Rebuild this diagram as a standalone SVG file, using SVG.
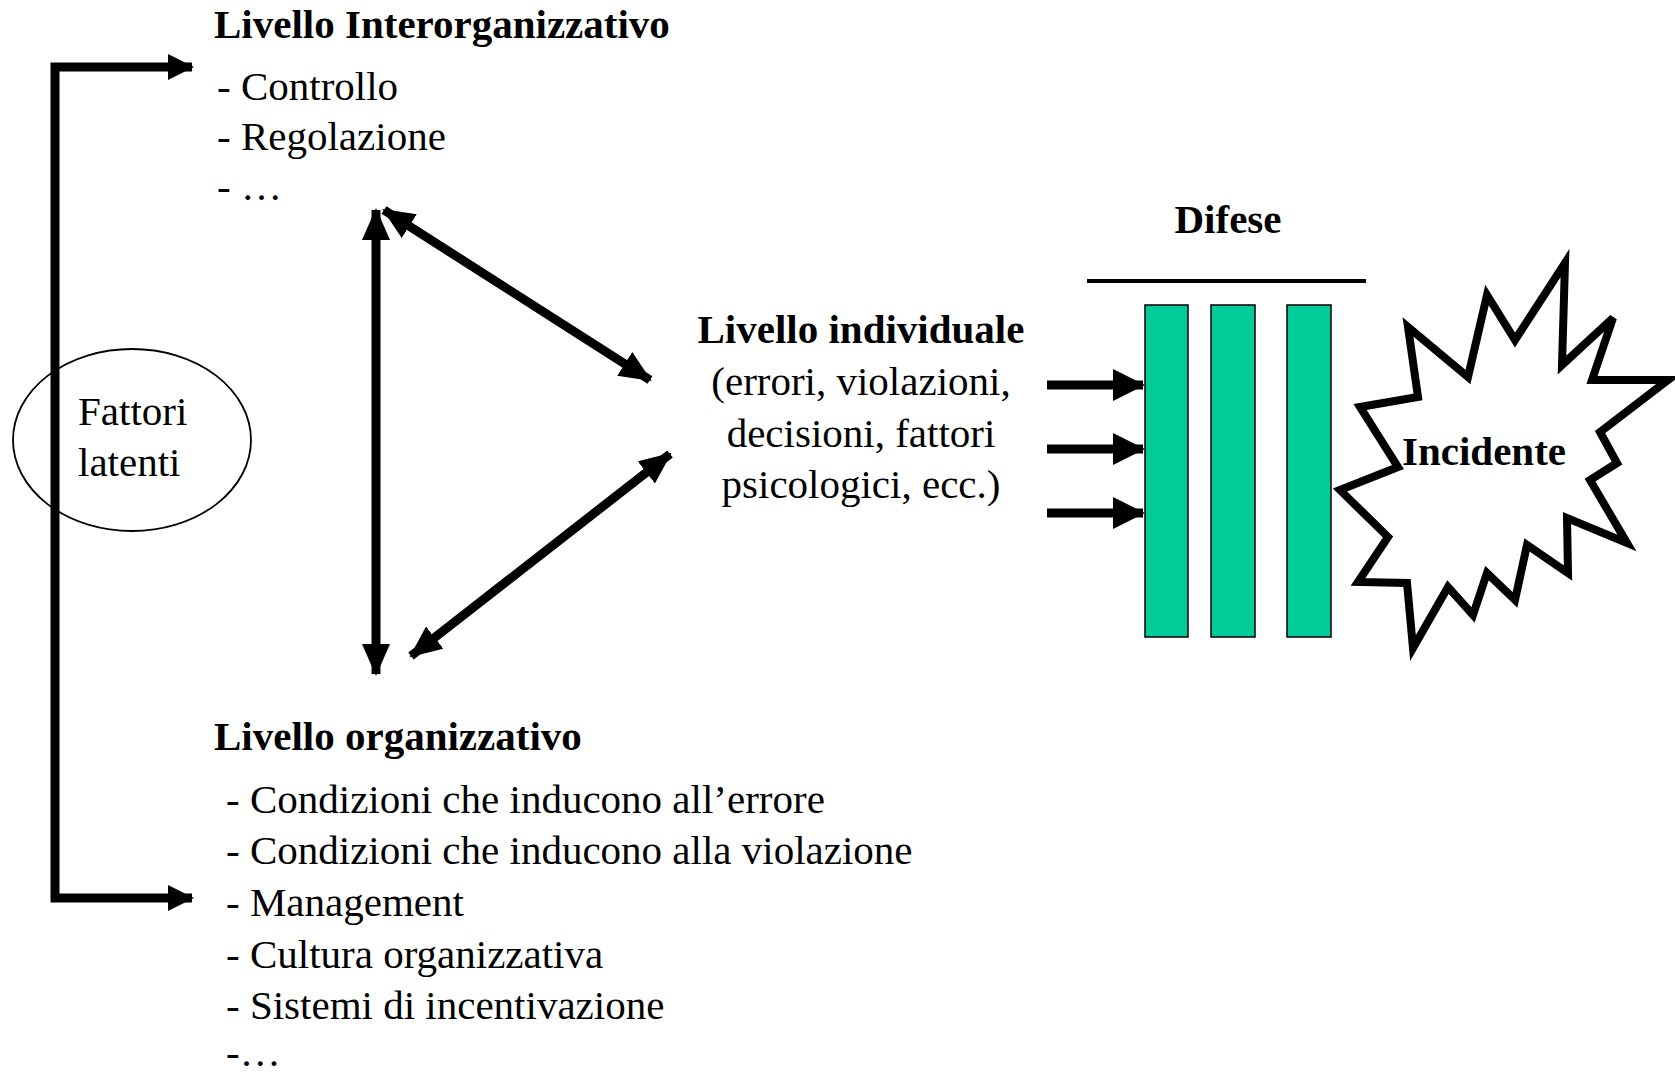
<svg xmlns="http://www.w3.org/2000/svg" width="1675" height="1074" viewBox="0 0 1675 1074">
<style>
text{font-family:"Liberation Serif","Times New Roman",serif;font-size:41px;fill:#000}
.b{font-weight:bold}
.m{text-anchor:middle}
.ln{stroke:#000;fill:none;stroke-width:9}
.bar{fill:#00CC99;stroke:#000;stroke-width:1.5}
</style>
<defs>
<marker id="ah" markerUnits="userSpaceOnUse" markerWidth="32" markerHeight="28" refX="30" refY="14" orient="auto-start-reverse">
<path d="M0,0 L32,14 L0,28 Z" fill="#000"/>
</marker>
<marker id="ahs" markerUnits="userSpaceOnUse" markerWidth="26" markerHeight="26" refX="24" refY="13" orient="auto-start-reverse">
<path d="M0,0 L26,13 L0,26 Z" fill="#000"/>
</marker>
<marker id="ahd" markerUnits="userSpaceOnUse" markerWidth="32" markerHeight="32" refX="30" refY="16" orient="auto">
<path d="M0,0 L32,16 L0,32 Z" fill="#000"/>
</marker>
</defs>
<rect width="1675" height="1074" fill="#fff"/>

<g id="connectors">
<path class="ln" d="M192,67 L55,67 L55,898 L192,898" stroke-width="8" marker-start="url(#ahs)" marker-end="url(#ahs)"/>
<line class="ln" x1="376" y1="210" x2="376" y2="674" marker-start="url(#ah)" marker-end="url(#ah)"/>
<line class="ln" x1="384" y1="210" x2="650" y2="380" marker-start="url(#ah)" marker-end="url(#ah)"/>
<line class="ln" x1="670" y1="454" x2="411" y2="656" marker-start="url(#ah)" marker-end="url(#ah)"/>
<line class="ln" x1="1047" y1="385" x2="1143" y2="385" stroke-width="11" marker-end="url(#ahd)"/>
<line class="ln" x1="1047" y1="449" x2="1143" y2="449" stroke-width="11" marker-end="url(#ahd)"/>
<line class="ln" x1="1047" y1="513" x2="1143" y2="513" stroke-width="11" marker-end="url(#ahd)"/>
</g>

<g id="interorg">
<text class="b" x="214" y="38">Livello Interorganizzativo</text>
<text x="217" y="100">- Controllo</text>
<text x="217" y="150">- Regolazione</text>
<text x="217" y="200">- …</text>
</g>

<g id="fattori">
<ellipse cx="132" cy="440" rx="119" ry="91" fill="none" stroke="#000" stroke-width="1.8"/>
<text x="78" y="425">Fattori</text>
<text x="78" y="476">latenti</text>
</g>

<g id="individuale">
<text class="b m" x="861" y="343">Livello individuale</text>
<text class="m" x="861" y="395">(errori, violazioni,</text>
<text class="m" x="861" y="447">decisioni, fattori</text>
<text class="m" x="861" y="498">psicologici, ecc.)</text>
</g>

<g id="difese">
<text class="b m" x="1228" y="233">Difese</text>
<line x1="1087" y1="281" x2="1366" y2="281" stroke="#000" stroke-width="4"/>
<rect class="bar" x="1145" y="305" width="43" height="332"/>
<rect class="bar" x="1211" y="305" width="44" height="332"/>
<rect class="bar" x="1287" y="305" width="44" height="332"/>
</g>

<g id="incidente">
<polygon points="1565,263 1562,365 1613,318 1592,380 1668,380 1600,432 1617,463 1590,480 1627,543 1567,518 1568,573 1527,545 1515,600 1487,573 1473,615 1448,587 1413,648 1407,583 1358,582 1388,537 1340,490 1398,467 1360,407 1418,397 1408,327 1468,377 1487,295 1515,340" fill="#fff" stroke="#000" stroke-width="8" stroke-linejoin="miter"/>
<text class="b" x="1402" y="465">Incidente</text>
</g>

<g id="organizzativo">
<text class="b" x="214" y="750">Livello organizzativo</text>
<text x="226" y="813">- Condizioni che inducono all’errore</text>
<text x="226" y="864">- Condizioni che inducono alla violazione</text>
<text x="226" y="916">- Management</text>
<text x="226" y="968">- Cultura organizzativa</text>
<text x="226" y="1019">- Sistemi di incentivazione</text>
<text x="226" y="1066">-…</text>
</g>
</svg>
